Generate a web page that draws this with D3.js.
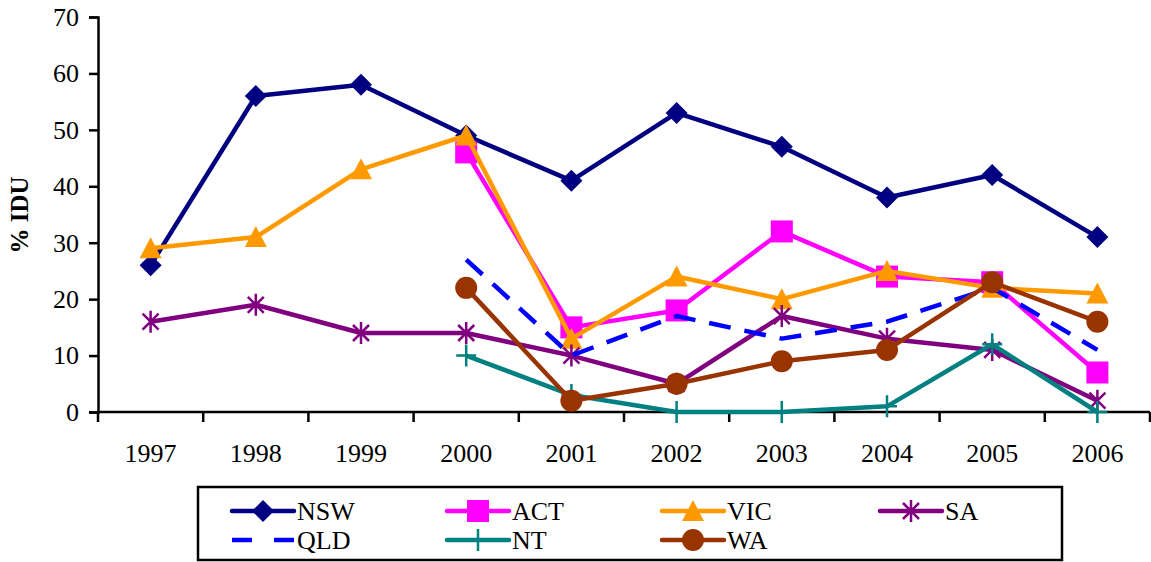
<!DOCTYPE html>
<html>
<head>
<meta charset="utf-8">
<script src="https://cdn.jsdelivr.net/npm/d3@7"></script>
<style>
  body { margin: 0; background: #fff; }
</style>
</head>
<body>
<div id="chart"></div>
<script>
const width = 1151;
const height = 562;
const fontFamily = "Liberation Serif";

const years = ["1997", "1998", "1999", "2000", "2001", "2002", "2003", "2004", "2005", "2006"];
const yTicks = [0, 10, 20, 30, 40, 50, 60, 70];

// null = no data for that year
const nsw = [26, 56, 58, 49, 41, 53, 47, 38, 42, 31];
const act = [null, null, null, 46, 15, 18, 32, 24, 23, 7];
const vic = [29, 31, 43, 49, 13, 24, 20, 25, 22, 21];
const sa  = [16, 19, 14, 14, 10, 5, 17, 13, 11, 2];
const qld = [null, null, null, 27, 10, 17, 13, 16, 22, 11];
const nt  = [null, null, null, 10, 3, 0, 0, 1, 12, 0];
const wa  = [null, null, null, 22, 2, 5, 9, 11, 23, 16];

const series = [
  { name: "NSW", values: nsw, color: "#000080", marker: "diamond" },
  { name: "ACT", values: act, color: "#ff00ff", marker: "square" },
  { name: "VIC", values: vic, color: "#ff9900", marker: "triangle" },
  { name: "SA",  values: sa,  color: "#800080", marker: "star" },
  { name: "QLD", values: qld, color: "#0000ff", marker: "none", dash: "22,14" },
  { name: "NT",  values: nt,  color: "#008080", marker: "plus" },
  { name: "WA",  values: wa,  color: "#993300", marker: "circle" }
];

const plot = { left: 98, right: 1150, top: 17, bottom: 412 };

const x = d3.scaleBand().domain(years).range([plot.left, plot.right]);
const y = d3.scaleLinear().domain([0, 70]).range([plot.bottom, plot.top]);
const cx = d => x(d) + x.bandwidth() / 2;

const svg = d3.select("#chart").append("svg")
  .attr("width", width)
  .attr("height", height);

// y axis
const yAxis = svg.append("g")
  .attr("transform", "translate(" + plot.left + ",0)")
  .call(d3.axisLeft(y).tickValues(yTicks).tickSize(9).tickPadding(10).tickFormat(d3.format("d")));
yAxis.attr("font-family", fontFamily).attr("font-size", 26);
yAxis.select(".domain").attr("stroke", "#000").attr("stroke-width", 2.5);
yAxis.selectAll(".tick line").attr("stroke", "#000").attr("stroke-width", 2.5);
yAxis.selectAll(".tick text").attr("fill", "#000");

// x axis: ticks on category boundaries
const xAxis = svg.append("g");
xAxis.append("line")
  .attr("x1", plot.left).attr("x2", plot.right)
  .attr("y1", plot.bottom).attr("y2", plot.bottom)
  .attr("stroke", "#000").attr("stroke-width", 2.5);
const bounds = years.map(d => x(d)).concat([x(years[years.length - 1]) + x.bandwidth()]);
xAxis.selectAll("line.tk").data(bounds).enter().append("line")
  .attr("class", "tk")
  .attr("x1", d => d).attr("x2", d => d)
  .attr("y1", plot.bottom).attr("y2", plot.bottom + 10)
  .attr("stroke", "#000").attr("stroke-width", 2.5);
xAxis.selectAll("text").data(years).enter().append("text")
  .attr("x", d => cx(d))
  .attr("y", 462)
  .attr("text-anchor", "middle")
  .attr("font-family", fontFamily)
  .attr("font-size", 26)
  .text(d => d);

// y label
svg.append("text")
  .attr("transform", "translate(28,215) rotate(-90)")
  .attr("text-anchor", "middle")
  .attr("font-family", fontFamily)
  .attr("font-size", 25)
  .attr("font-weight", "bold")
  .text("% IDU");

function drawMarker(g, type, color) {
  const s = 11;
  if (type === "diamond") {
    g.append("path").attr("d", `M0,${-s}L${s},0L0,${s}L${-s},0Z`).attr("fill", color);
  } else if (type === "square") {
    g.append("rect").attr("x", -s).attr("y", -s).attr("width", 2 * s).attr("height", 2 * s).attr("fill", color);
  } else if (type === "triangle") {
    g.append("path").attr("d", `M0,${-s}L${s},${s - 1}L${-s},${s - 1}Z`).attr("fill", color);
  } else if (type === "circle") {
    g.append("circle").attr("r", s).attr("fill", color);
  } else if (type === "star") {
    const a = 8;
    g.append("path")
      .attr("d", `M0,${-s}V${s}M${-a},${-a}L${a},${a}M${-a},${a}L${a},${-a}`)
      .attr("stroke", color).attr("stroke-width", 2.5).attr("fill", "none");
  } else if (type === "plus") {
    g.append("path")
      .attr("d", `M0,${-s}V${s}M${-s + 1},0H${s - 1}`)
      .attr("stroke", color).attr("stroke-width", 2.5).attr("fill", "none");
  }
}

const line = d3.line()
  .defined(d => d.v !== null)
  .x(d => cx(d.year))
  .y(d => y(d.v));

series.forEach(function(s) {
  const pts = years.map((yr, i) => ({ year: yr, v: s.values[i] }));
  const g = svg.append("g");
  g.append("path")
    .datum(pts)
    .attr("d", line)
    .attr("fill", "none")
    .attr("stroke", s.color)
    .attr("stroke-width", 4.5)
    .attr("stroke-linejoin", "round")
    .attr("stroke-dasharray", s.dash || null);
  pts.filter(d => d.v !== null).forEach(function(d) {
    const m = g.append("g").attr("transform", "translate(" + cx(d.year) + "," + y(d.v) + ")");
    drawMarker(m, s.marker, s.color);
  });
});

// legend
const legend = svg.append("g");
legend.append("rect")
  .attr("x", 198).attr("y", 487)
  .attr("width", 864).attr("height", 73)
  .attr("fill", "#fff").attr("stroke", "#000").attr("stroke-width", 2.5);

const colX = [232, 447, 662, 880];
const rowY = [511, 540];
series.forEach(function(s, i) {
  const col = i < 4 ? i : i - 4;
  const row = i < 4 ? 0 : 1;
  const lx = colX[col];
  const ly = rowY[row];
  const item = legend.append("g");
  item.append("line")
    .attr("x1", lx).attr("x2", lx + 62)
    .attr("y1", ly).attr("y2", ly)
    .attr("stroke", s.color)
    .attr("stroke-width", 4.5)
    .attr("stroke-linecap", s.dash ? "butt" : "round")
    .attr("stroke-dasharray", s.dash ? "20,22" : null);
  const m = item.append("g").attr("transform", "translate(" + (lx + 31) + "," + ly + ")");
  drawMarker(m, s.marker, s.color);
  item.append("text")
    .attr("x", lx + 65)
    .attr("y", ly + 9)
    .attr("font-family", fontFamily)
    .attr("font-size", 26)
    .text(s.name);
});
</script>
</body>
</html>
